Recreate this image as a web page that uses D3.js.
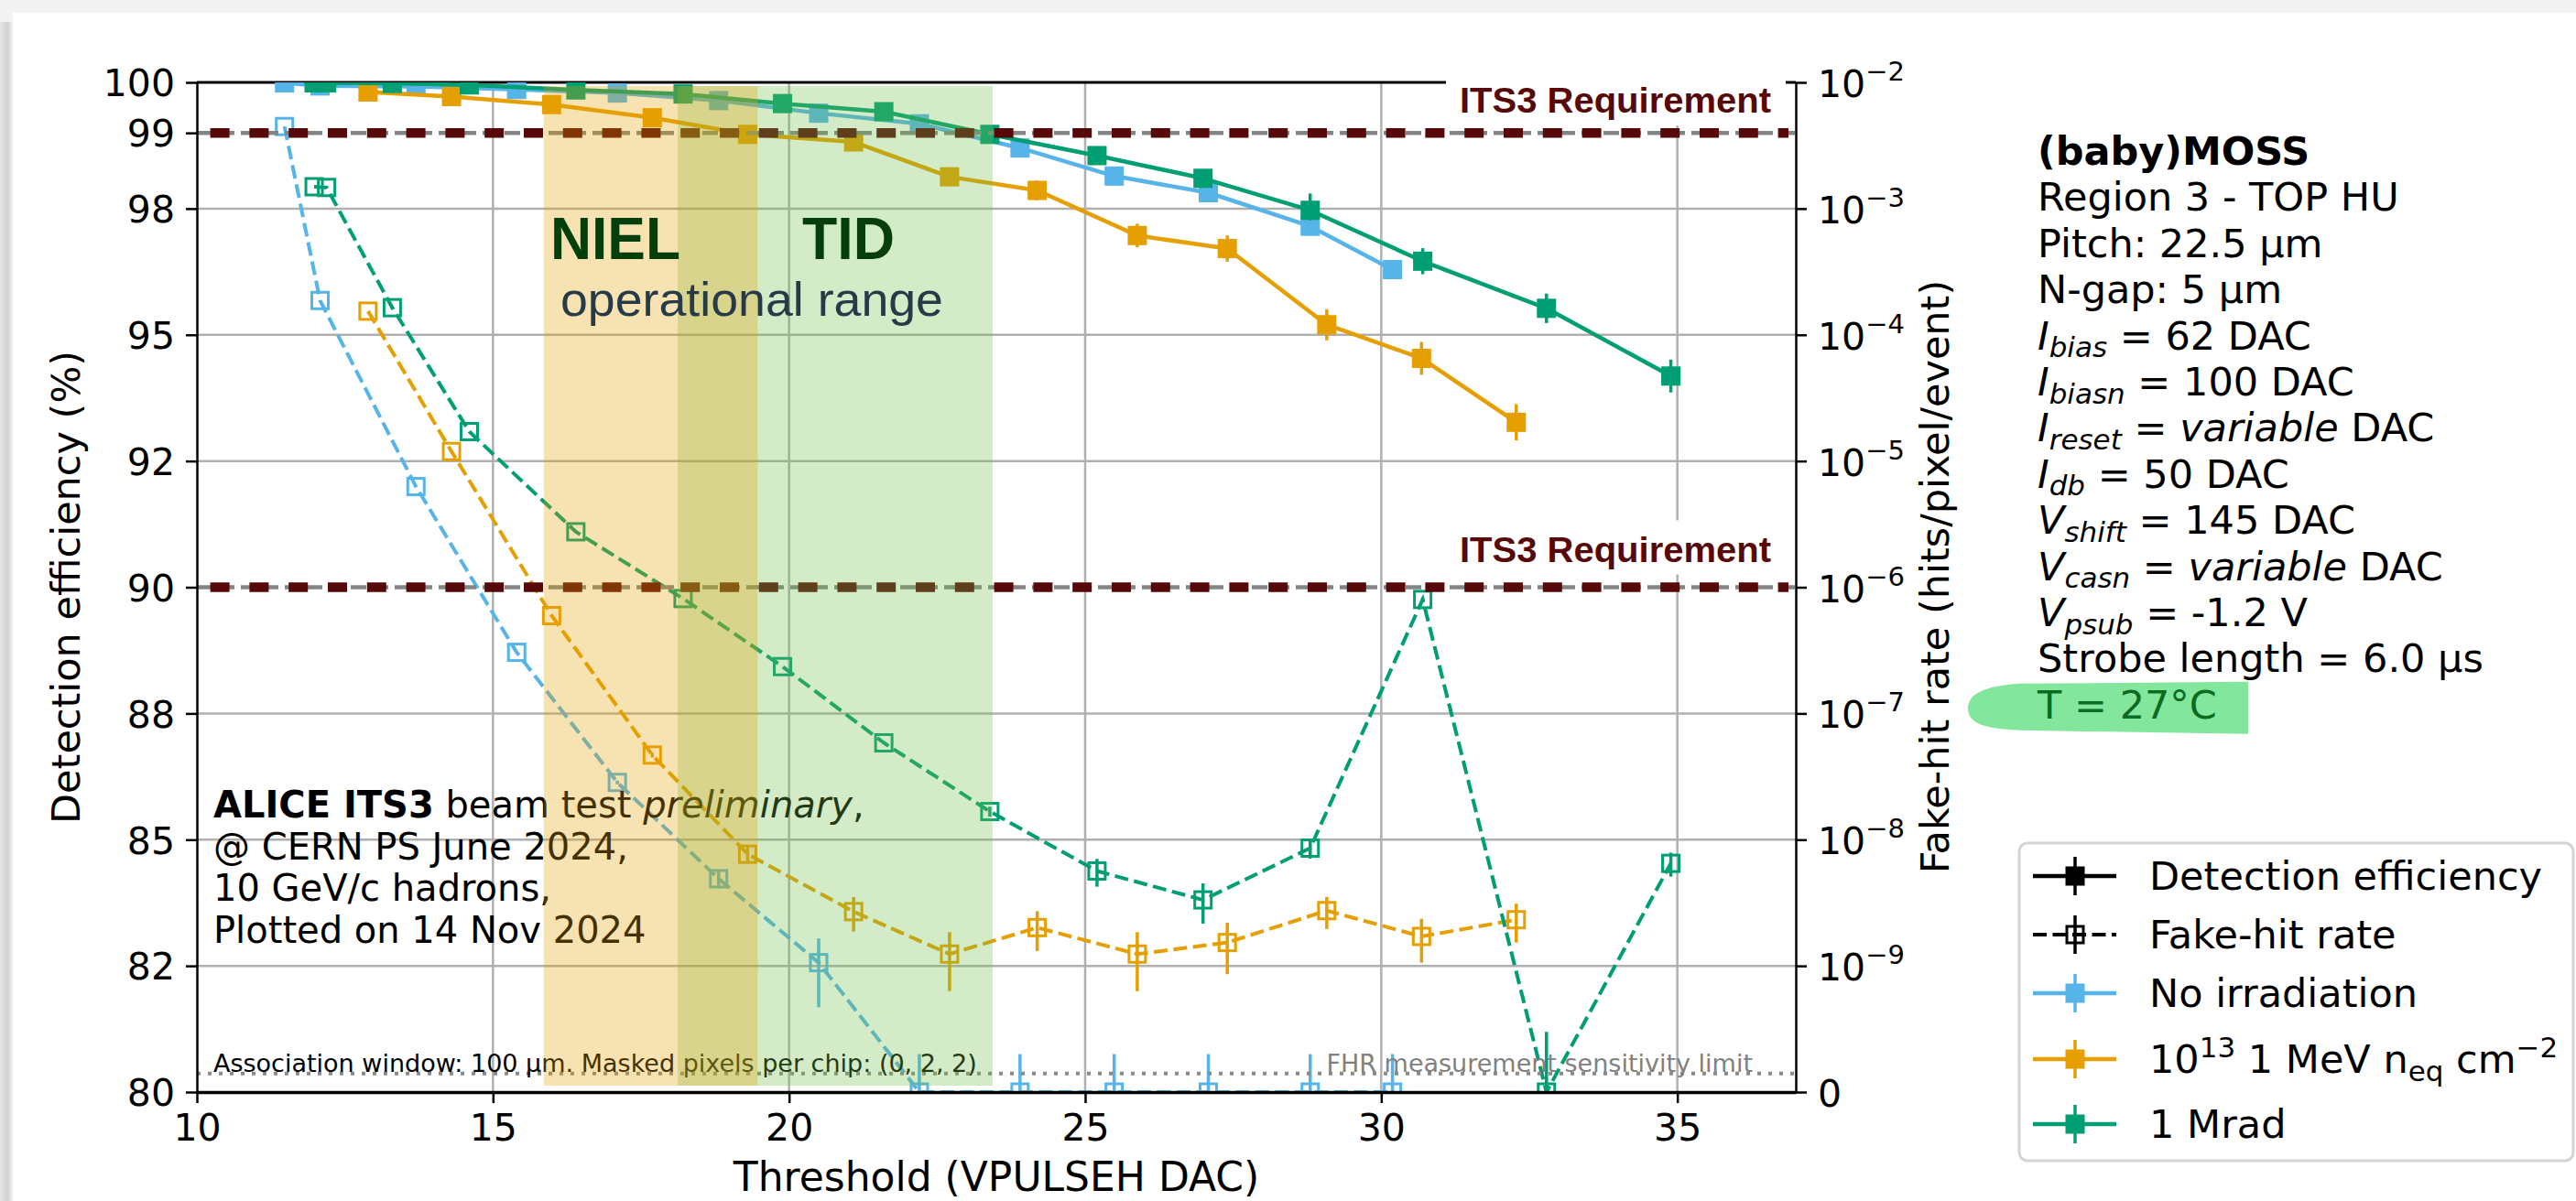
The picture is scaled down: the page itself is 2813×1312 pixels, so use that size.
<!DOCTYPE html>
<html>
<head>
<meta charset="utf-8">
<script src="https://cdn.jsdelivr.net/npm/d3@7"></script>
<style>
  body { margin: 0; background: #fff; }
  text { font-family: "DejaVu Sans", sans-serif; }
</style>
</head>
<body>
<svg id="chart" width="2813" height="1312"></svg>
<script>
// ---- values ----
const xTicks = [10, 15, 20, 25, 30, 35];
const effTicks = [80, 82, 85, 88, 90, 92, 95, 98, 99, 100];
const fhrTicks = [0, 1e-9, 1e-8, 1e-7, 1e-6, 1e-5, 1e-4, 1e-3, 1e-2];

// No irradiation
const thrNoIrr = [11.48, 12.08, 13.70, 15.40, 17.10, 18.81, 20.50, 22.20, 23.90, 25.49, 27.08, 28.80, 30.19];
const effNoIrr = [99.99, 99.93, 99.92, 99.86, 99.79, 99.64, 99.39, 99.18, 98.80, 98.43, 98.21, 97.58, 96.55];
const effErrNoIrr = [0.01, 0.01, 0.01, 0.01, 0.02, 0.02, 0.03, 0.04, 0.05, 0.06, 0.07, 0.10, 0.15];
const fhrNoIrr = [4.47e-3, 1.87e-4, 6.27e-6, 3.05e-7, 2.84e-8, 4.9e-9, 1.06e-9, 0, 0, 0, 0, 0, 0];
const fhrErrNoIrr = [0, 0, 0, 0, 1e-9, 8e-10, 5.9e-10, 2e-10, 2e-10, 2e-10, 2e-10, 2e-10, 2e-10];

// 10^13 1 MeV neq cm^-2
const thrNeq = [12.89, 14.30, 15.99, 17.69, 19.30, 21.09, 22.71, 24.19, 25.88, 27.40, 29.08, 30.68, 32.28];
const effNeq = [99.81, 99.72, 99.56, 99.30, 98.98, 98.88, 98.42, 98.24, 97.36, 97.05, 95.24, 94.44, 92.92];
const effErrNeq = [0.02, 0.02, 0.03, 0.04, 0.05, 0.06, 0.10, 0.13, 0.28, 0.31, 0.37, 0.39, 0.43];
const fhrNeq = [1.54e-4, 1.19e-5, 5.96e-7, 4.68e-8, 7.67e-9, 2.69e-9, 1.24e-9, 2.01e-9, 1.24e-9, 1.53e-9, 2.74e-9, 1.71e-9, 2.32e-9];
const fhrErrNeq = [0, 0, 0, 2e-9, 1.2e-9, 8.2e-10, 6.1e-10, 7.0e-10, 6.1e-10, 6.7e-10, 7.8e-10, 6.5e-10, 7.9e-10];

// 1 Mrad
const thrMrad = [11.98, 12.19, 13.30, 14.60, 16.40, 18.21, 19.89, 21.60, 23.39, 25.20, 26.99, 28.80, 30.70, 32.79, 34.89];
const effMrad = [99.99, 99.99, 99.98, 99.95, 99.85, 99.77, 99.58, 99.42, 98.98, 98.70, 98.40, 97.96, 96.75, 95.63, 94.02];
const effErrMrad = [0.01, 0.01, 0.01, 0.01, 0.02, 0.02, 0.03, 0.04, 0.05, 0.06, 0.08, 0.24, 0.31, 0.35, 0.39];
const fhrMrad = [1.49e-3, 1.47e-3, 1.64e-4, 1.71e-5, 2.75e-6, 8.13e-7, 2.35e-7, 5.85e-8, 1.67e-8, 5.64e-9, 3.33e-9, 8.57e-9, 8.0e-7, 0, 6.49e-9];
const fhrErrMrad = [0, 0, 0, 0, 0, 0, 0, 0, 1.5e-9, 1.4e-9, 1.17e-9, 1.5e-9, 3e-8, 3e-10, 1.4e-9];

const effRequirement = 99;
const fhrRequirement = 1e-6;
const fhrSensitivity = 1.4e-10;
const nielRange = [15.86, 19.47];
const tidRange = [18.12, 23.44];

const seriesColors = ["#56B4E9", "#E69F00", "#009E73"];

// ---- layout ----
const W = 2813, H = 1312;
const plot = { left: 215, right: 1961, top: 90, bottom: 1193 };
const effTickFrac = [0, 1/8, 2/8, 3/8, 4/8, 5/8, 6/8, 7/8, 0.95, 1];
const fhrFloor = 1e-10;

const svg = d3.select("#chart");

const x = d3.scaleLinear().domain([10, 37]).range([plot.left, plot.right]);
const yEff = d3.scaleLinear().domain(effTicks)
  .range(effTickFrac.map(f => plot.bottom - f * (plot.bottom - plot.top)));
const yFhr = d3.scaleLog().domain([fhrFloor, 1e-2]).range([plot.bottom, plot.top]);
const yF = v => yFhr(Math.max(v, fhrFloor));

// ---- slide background with shadow ----
const defs = svg.append("defs");
const grad = defs.append("linearGradient").attr("id", "shade");
grad.append("stop").attr("offset", "0").attr("stop-color", "#e6e6e6");
grad.append("stop").attr("offset", "0.6").attr("stop-color", "#d2d2d2");
grad.append("stop").attr("offset", "1").attr("stop-color", "#f4f4f4");
defs.append("clipPath").attr("id", "plotclip").append("rect")
  .attr("x", plot.left).attr("y", plot.top)
  .attr("width", plot.right - plot.left).attr("height", plot.bottom - plot.top);

svg.append("rect").attr("width", W).attr("height", H).attr("fill", "#f3f3f3");
svg.append("rect").attr("x", 0).attr("y", 24).attr("width", 14).attr("height", H).attr("fill", "url(#shade)");
svg.append("rect").attr("x", 14).attr("y", 14).attr("width", W).attr("height", H).attr("fill", "#fff");

// ---- grid ----
const grid = svg.append("g").attr("stroke", "#b0b0b0").attr("stroke-width", 2.5);
grid.selectAll(null).data(xTicks.slice(1)).enter().append("line")
  .attr("x1", d => x(d)).attr("x2", d => x(d))
  .attr("y1", plot.top).attr("y2", plot.bottom);
grid.selectAll(null).data([82, 85, 88, 92, 95, 98]).enter().append("line")
  .attr("x1", plot.left).attr("x2", plot.right)
  .attr("y1", d => yEff(d)).attr("y2", d => yEff(d));

// top spine (hidden behind the label box at the right)
svg.append("line")
  .attr("x1", plot.left).attr("x2", plot.right).attr("y1", plot.top).attr("y2", plot.top)
  .attr("stroke", "#000").attr("stroke-width", 3);

// white boxes of the requirement labels go here, under the lines
const boxLayer = svg.append("g");

// ---- data ----
const dataG = svg.append("g").attr("clip-path", "url(#plotclip)");

function drawEfficiency(thr, eff, err, color) {
  const pts = thr.map((t, i) => ({ t: t, v: eff[i], e: err[i] }));
  dataG.append("path").datum(pts)
    .attr("fill", "none").attr("stroke", color).attr("stroke-width", 4.5)
    .attr("stroke-linejoin", "round")
    .attr("d", d3.line().x(d => x(d.t)).y(d => yEff(d.v)));
  dataG.selectAll(null).data(pts).enter().append("line")
    .attr("stroke", color).attr("stroke-width", 3.5)
    .attr("x1", d => x(d.t)).attr("x2", d => x(d.t))
    .attr("y1", d => yEff(d.v - d.e)).attr("y2", d => yEff(d.v + d.e));
  dataG.selectAll(null).data(pts).enter().append("rect")
    .attr("fill", color)
    .attr("x", d => x(d.t) - 10.5).attr("y", d => yEff(d.v) - 10.5)
    .attr("width", 21).attr("height", 21);
}

function drawFhr(thr, fhr, err, color) {
  const pts = thr.map((t, i) => ({ t: t, v: fhr[i], e: err[i] }));
  dataG.append("path").datum(pts)
    .attr("fill", "none").attr("stroke", color).attr("stroke-width", 4)
    .attr("stroke-dasharray", "15 6.5")
    .attr("d", d3.line().x(d => x(d.t)).y(d => yF(d.v)));
  dataG.selectAll(null).data(pts.filter(d => d.e > 0)).enter().append("line")
    .attr("stroke", color).attr("stroke-width", 3.5)
    .attr("x1", d => x(d.t)).attr("x2", d => x(d.t))
    .attr("y1", d => yF(d.v - d.e)).attr("y2", d => yF(d.v + d.e));
  dataG.selectAll(null).data(pts).enter().append("rect")
    .attr("fill", "none").attr("stroke", color).attr("stroke-width", 3)
    .attr("x", d => x(d.t) - 9).attr("y", d => yF(d.v) - 9)
    .attr("width", 18).attr("height", 18);
}

drawEfficiency(thrNoIrr, effNoIrr, effErrNoIrr, seriesColors[0]);
drawEfficiency(thrNeq, effNeq, effErrNeq, seriesColors[1]);
drawEfficiency(thrMrad, effMrad, effErrMrad, seriesColors[2]);
drawFhr(thrNoIrr, fhrNoIrr, fhrErrNoIrr, seriesColors[0]);
drawFhr(thrNeq, fhrNeq, fhrErrNeq, seriesColors[1]);
drawFhr(thrMrad, fhrMrad, fhrErrMrad, seriesColors[2]);

// ---- requirement lines ----
[yEff(effRequirement), yFhr(fhrRequirement)].forEach(yy => {
  svg.append("line")
    .attr("x1", plot.left).attr("x2", plot.right).attr("y1", yy).attr("y2", yy)
    .attr("stroke", "#848484").attr("stroke-width", 4.5).attr("stroke-dasharray", "17 7");
  svg.append("line")
    .attr("x1", plot.left).attr("x2", plot.right - 8).attr("y1", yy).attr("y2", yy)
    .attr("stroke", "#570808").attr("stroke-width", 10.5)
    .attr("stroke-dasharray", "21 21.8").attr("stroke-dashoffset", 28.2);
});

// ---- FHR sensitivity limit ----
const ySens = yFhr(fhrSensitivity);
svg.append("line")
  .attr("x1", plot.left).attr("x2", plot.right).attr("y1", ySens).attr("y2", ySens)
  .attr("stroke", "#8a8a8a").attr("stroke-width", 4).attr("stroke-dasharray", "4 8");
svg.append("text").attr("x", 233).attr("y", ySens - 2)
  .attr("font-size", 27).attr("fill", "#000")
  .text("Association window: 100 µm. Masked pixels per chip: (0, 2, 2)");
svg.append("text").attr("x", 1914).attr("y", ySens - 2)
  .attr("font-size", 27).attr("fill", "#808080").attr("text-anchor", "end")
  .text("FHR measurement sensitivity limit");

// ---- rich text helper ----
function addRich(textSel, segs, size) {
  let shift = 0;
  segs.forEach(([str, style = ""]) => {
    const tags = style.split(" ");
    const target = tags.includes("sub") ? 0.2 * size : tags.includes("sup") ? -0.4 * size : 0;
    const ts = textSel.append("tspan").text(str).attr("dy", target - shift);
    shift = target;
    if (tags.includes("b")) ts.attr("font-weight", "bold");
    if (tags.includes("i")) ts.attr("font-style", "italic");
    if (tags.includes("sub") || tags.includes("sup")) ts.attr("font-size", size * 0.72);
  });
}

// ---- ALICE block ----
const aliceLines = [
  [["ALICE ITS3", "b"], [" beam test "], ["preliminary", "i"], [","]],
  [["@ CERN PS June 2024,"]],
  [["10 GeV/c hadrons,"]],
  [["Plotted on 14 Nov 2024"]]
];
aliceLines.forEach((segs, i) => {
  const t = svg.append("text").attr("x", 233).attr("y", 893 + i * 45.6).attr("font-size", 40);
  addRich(t, segs, 40);
});

// ---- irradiation ranges ----
const bandTop = plot.top + 4, bandBottom = plot.bottom - 7;
svg.append("rect")
  .attr("x", x(tidRange[0])).attr("width", x(tidRange[1]) - x(tidRange[0]))
  .attr("y", bandTop).attr("height", bandBottom - bandTop)
  .attr("fill", "#70bc48").attr("fill-opacity", 0.3);
svg.append("rect")
  .attr("x", x(nielRange[0])).attr("width", x(nielRange[1]) - x(nielRange[0]))
  .attr("y", bandTop).attr("height", bandBottom - bandTop)
  .attr("fill", "#E69F00").attr("fill-opacity", 0.3);

svg.append("text").attr("x", 601).attr("y", 283)
  .style("font-family", "'Liberation Sans', Arial, sans-serif")
  .attr("font-weight", "bold").attr("font-size", 65).attr("fill", "#043f0b")
  .attr("textLength", 142).attr("lengthAdjust", "spacingAndGlyphs").text("NIEL");
svg.append("text").attr("x", 876).attr("y", 283)
  .style("font-family", "'Liberation Sans', Arial, sans-serif")
  .attr("font-weight", "bold").attr("font-size", 65).attr("fill", "#043f0b")
  .attr("textLength", 101).attr("lengthAdjust", "spacingAndGlyphs").text("TID");
svg.append("text").attr("x", 612).attr("y", 345)
  .style("font-family", "'Liberation Sans', Arial, sans-serif")
  .attr("font-size", 52).attr("fill", "#263a48")
  .attr("textLength", 418).attr("lengthAdjust", "spacingAndGlyphs").text("operational range");

// ---- ITS3 requirement labels with white boxes ----
[yEff(effRequirement) - 22, yFhr(fhrRequirement) - 28].forEach(yy => {
  const t = svg.append("text").attr("x", 1594).attr("y", yy)
    .style("font-family", "'Liberation Sans', Arial, sans-serif")
    .attr("font-weight", "bold").attr("font-size", 39).attr("fill", "#570808")
    .attr("textLength", 340).attr("lengthAdjust", "spacingAndGlyphs")
    .text("ITS3 Requirement");
  const bb = t.node().getBBox();
  boxLayer.append("rect")
    .attr("x", bb.x - 15).attr("y", bb.y - 10)
    .attr("width", plot.right - 11 - (bb.x - 15)).attr("height", bb.height + 16)
    .attr("fill", "#fff");
});

// ---- axes ----
const axisFont = 41;
const gLeft = svg.append("g").attr("transform", `translate(${plot.left},0)`)
  .call(d3.axisLeft(yEff).tickValues(effTicks).tickSize(12).tickSizeOuter(0).tickPadding(12));
const gBottom = svg.append("g").attr("transform", `translate(0,${plot.bottom})`)
  .call(d3.axisBottom(x).tickValues(xTicks).tickSize(12).tickSizeOuter(0).tickPadding(12));
const gRight = svg.append("g").attr("transform", `translate(${plot.right},0)`)
  .call(d3.axisRight(yFhr).tickValues(fhrTicks.map(v => Math.max(v, fhrFloor)))
    .tickSize(12).tickSizeOuter(0).tickPadding(12).tickFormat(() => ""));

[gLeft, gBottom, gRight].forEach(g => {
  g.attr("font-family", null).attr("font-size", null);
  g.selectAll("text").attr("font-size", axisFont).attr("fill", "#000");
  g.selectAll("line").attr("stroke", "#000").attr("stroke-width", 2.5);
  g.select(".domain").attr("stroke", "#000").attr("stroke-width", 2.5);
});
gBottom.select(".domain").attr("stroke-width", 3.5);
gLeft.selectAll("text").attr("dy", "0.36em");

gRight.selectAll(".tick text").each(function (d) {
  const t = d3.select(this).attr("dy", "0.38em");
  if (d <= fhrFloor) { t.text("0"); return; }
  t.append("tspan").text("10");
  t.append("tspan").attr("font-size", 29).attr("dy", -18)
    .text("\u2212" + Math.round(-Math.log10(d)));
});

// axis titles
svg.append("text").attr("transform", `translate(87,${(plot.top + plot.bottom) / 2}) rotate(-90)`)
  .attr("text-anchor", "middle").attr("font-size", 43).text("Detection efficiency (%)");
svg.append("text").attr("transform", `translate(2128,630) rotate(-90)`)
  .attr("text-anchor", "middle").attr("font-size", 43).text("Fake-hit rate (hits/pixel/event)");
svg.append("text").attr("x", (plot.left + plot.right) / 2).attr("y", 1301)
  .attr("text-anchor", "middle").attr("font-size", 44).text("Threshold (VPULSEH DAC)");

// ---- settings text ----
const infoLines = [
  [["(baby)MOSS", "b"]],
  [["Region 3 - TOP HU"]],
  [["Pitch: 22.5 µm"]],
  [["N-gap: 5 µm"]],
  [["I", "i"], ["bias", "i sub"], [" = 62 DAC"]],
  [["I", "i"], ["biasn", "i sub"], [" = 100 DAC"]],
  [["I", "i"], ["reset", "i sub"], [" = "], ["variable", "i"], [" DAC"]],
  [["I", "i"], ["db", "i sub"], [" = 50 DAC"]],
  [["V", "i"], ["shift", "i sub"], [" = 145 DAC"]],
  [["V", "i"], ["casn", "i sub"], [" = "], ["variable", "i"], [" DAC"]],
  [["V", "i"], ["psub", "i sub"], [" = -1.2 V"]],
  [["Strobe length = 6.0 µs"]],
  [["T = 27°C"]]
];
const infoX = 2225, infoY = 180, infoStep = 50.4;
// marker highlight behind the temperature
const hy = infoY + 12 * infoStep;
svg.append("path")
  .attr("d", `M2455,${hy - 40} L2205,${hy - 38} C2162,${hy - 35} 2148,${hy - 24} 2149,${hy - 10}
             C2150,${hy + 5} 2165,${hy + 11} 2205,${hy + 13} L2455,${hy + 17} Z`)
  .attr("fill", "#82e69c");
infoLines.forEach((segs, i) => {
  const t = svg.append("text").attr("x", infoX).attr("y", infoY + i * infoStep)
    .attr("font-size", 43).attr("fill", i === 12 ? "#0b6b1f" : "#000");
  addRich(t, segs, 43);
});

// ---- legend ----
const legend = svg.append("g");
legend.append("rect").attr("x", 2205).attr("y", 921).attr("width", 605).attr("height", 347)
  .attr("rx", 9).attr("fill", "#fff").attr("stroke", "#d4d4d4").attr("stroke-width", 3);
const legendRows = [
  { color: "#000", open: false, label: [["Detection efficiency"]] },
  { color: "#000", open: true, label: [["Fake-hit rate"]] },
  { color: seriesColors[0], open: false, label: [["No irradiation"]] },
  { color: seriesColors[1], open: false, label: [["10"], ["13", "sup"], [" 1 MeV n"], ["eq", "sub"], [" cm"], ["\u22122", "sup"]] },
  { color: seriesColors[2], open: false, label: [["1 Mrad"]] }
];
const rowY = [957, 1021, 1085, 1157, 1228];
legendRows.forEach((r, i) => {
  const cy = rowY[i], cx = 2266;
  legend.append("line").attr("x1", 2220).attr("x2", 2311).attr("y1", cy).attr("y2", cy)
    .attr("stroke", r.color).attr("stroke-width", r.open ? 4 : 4.5)
    .attr("stroke-dasharray", r.open ? "15 6.5" : null);
  legend.append("line").attr("x1", cx).attr("x2", cx).attr("y1", cy - 21).attr("y2", cy + 21)
    .attr("stroke", r.color).attr("stroke-width", 3.5);
  if (r.open) {
    legend.append("rect").attr("x", cx - 9).attr("y", cy - 9).attr("width", 18).attr("height", 18)
      .attr("fill", "none").attr("stroke", r.color).attr("stroke-width", 3);
  } else {
    legend.append("rect").attr("x", cx - 10.5).attr("y", cy - 10.5).attr("width", 21).attr("height", 21)
      .attr("fill", r.color);
  }
  const t = legend.append("text").attr("x", 2347).attr("y", cy + 15).attr("font-size", 43);
  addRich(t, r.label, 43);
});
</script>
</body>
</html>
